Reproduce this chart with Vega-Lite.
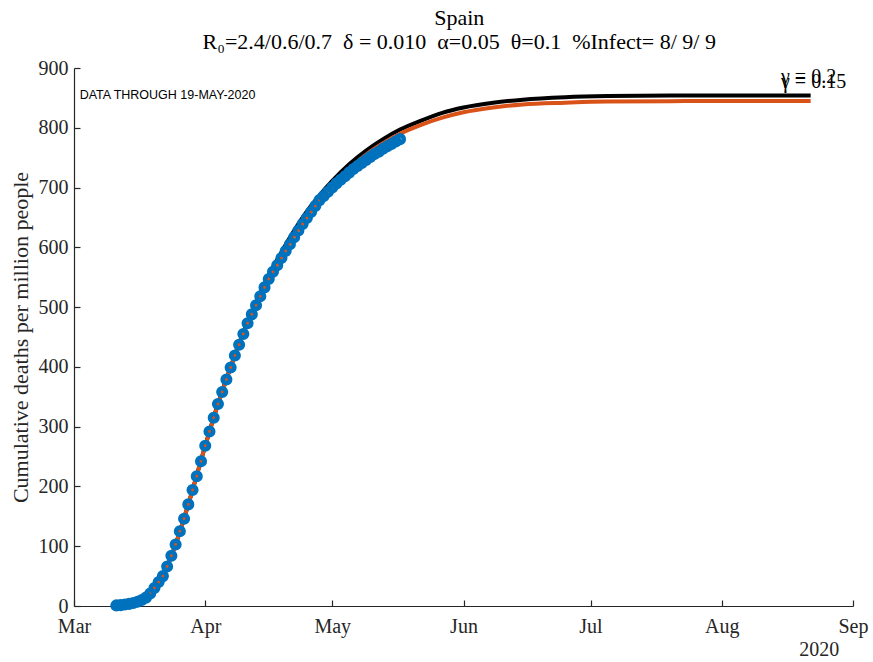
{
  "$schema": "https://vega.github.io/schema/vega-lite/v6.json",
  "width": 779,
  "height": 538,
  "autosize": {"type": "none"},
  "padding": {"left": 74, "top": 68, "right": 20, "bottom": 56},
  "background": "white",
  "config": {
    "view": {"stroke": null},
    "font": "Liberation Serif",
    "axis": {
      "grid": false,
      "domainColor": "#262626",
      "domainWidth": 1.2,
      "tickColor": "#262626",
      "tickWidth": 1.2,
      "tickSize": -6,
      "labelFont": "Liberation Serif",
      "labelFontSize": 20,
      "labelColor": "#262626",
      "titleFont": "Liberation Serif",
      "titleFontSize": 22,
      "titleFontWeight": "normal",
      "titleColor": "#262626"
    }
  },
  "datasets": {
    "model": [
      {"date": "2020-03-10", "g": "0.2", "v": 0.3},
      {"date": "2020-03-13", "g": "0.2", "v": 2},
      {"date": "2020-03-16", "g": "0.2", "v": 7},
      {"date": "2020-03-19", "g": "0.2", "v": 21},
      {"date": "2020-03-22", "g": "0.2", "v": 50},
      {"date": "2020-03-25", "g": "0.2", "v": 103},
      {"date": "2020-03-28", "g": "0.2", "v": 170},
      {"date": "2020-04-01", "g": "0.2", "v": 268},
      {"date": "2020-04-04", "g": "0.2", "v": 338},
      {"date": "2020-04-07", "g": "0.2", "v": 400},
      {"date": "2020-04-10", "g": "0.2", "v": 458},
      {"date": "2020-04-13", "g": "0.2", "v": 507},
      {"date": "2020-04-16", "g": "0.2", "v": 553},
      {"date": "2020-04-19", "g": "0.2", "v": 592},
      {"date": "2020-04-22", "g": "0.2", "v": 628},
      {"date": "2020-04-25", "g": "0.2", "v": 660},
      {"date": "2020-04-28", "g": "0.2", "v": 687},
      {"date": "2020-05-01", "g": "0.2", "v": 711},
      {"date": "2020-05-05", "g": "0.2", "v": 739},
      {"date": "2020-05-09", "g": "0.2", "v": 762},
      {"date": "2020-05-13", "g": "0.2", "v": 781},
      {"date": "2020-05-17", "g": "0.2", "v": 797},
      {"date": "2020-05-22", "g": "0.2", "v": 812},
      {"date": "2020-05-27", "g": "0.2", "v": 825},
      {"date": "2020-06-01", "g": "0.2", "v": 834},
      {"date": "2020-06-08", "g": "0.2", "v": 842},
      {"date": "2020-06-15", "g": "0.2", "v": 847},
      {"date": "2020-06-25", "g": "0.2", "v": 851},
      {"date": "2020-07-05", "g": "0.2", "v": 853},
      {"date": "2020-07-20", "g": "0.2", "v": 854},
      {"date": "2020-08-05", "g": "0.2", "v": 854},
      {"date": "2020-08-22", "g": "0.2", "v": 854},
      {"date": "2020-03-10", "g": "0.15", "v": 0.3},
      {"date": "2020-03-13", "g": "0.15", "v": 2},
      {"date": "2020-03-16", "g": "0.15", "v": 7},
      {"date": "2020-03-19", "g": "0.15", "v": 21},
      {"date": "2020-03-22", "g": "0.15", "v": 50},
      {"date": "2020-03-25", "g": "0.15", "v": 103},
      {"date": "2020-03-28", "g": "0.15", "v": 170},
      {"date": "2020-04-01", "g": "0.15", "v": 268},
      {"date": "2020-04-04", "g": "0.15", "v": 337},
      {"date": "2020-04-07", "g": "0.15", "v": 399},
      {"date": "2020-04-10", "g": "0.15", "v": 456},
      {"date": "2020-04-13", "g": "0.15", "v": 503},
      {"date": "2020-04-16", "g": "0.15", "v": 547},
      {"date": "2020-04-19", "g": "0.15", "v": 584},
      {"date": "2020-04-22", "g": "0.15", "v": 619},
      {"date": "2020-04-25", "g": "0.15", "v": 651},
      {"date": "2020-04-28", "g": "0.15", "v": 679},
      {"date": "2020-05-01", "g": "0.15", "v": 703},
      {"date": "2020-05-05", "g": "0.15", "v": 731},
      {"date": "2020-05-09", "g": "0.15", "v": 755},
      {"date": "2020-05-13", "g": "0.15", "v": 774},
      {"date": "2020-05-17", "g": "0.15", "v": 790},
      {"date": "2020-05-22", "g": "0.15", "v": 805},
      {"date": "2020-05-27", "g": "0.15", "v": 817},
      {"date": "2020-06-01", "g": "0.15", "v": 826},
      {"date": "2020-06-08", "g": "0.15", "v": 834},
      {"date": "2020-06-15", "g": "0.15", "v": 839},
      {"date": "2020-06-25", "g": "0.15", "v": 842},
      {"date": "2020-07-05", "g": "0.15", "v": 844},
      {"date": "2020-07-20", "g": "0.15", "v": 844.5},
      {"date": "2020-08-05", "g": "0.15", "v": 845},
      {"date": "2020-08-22", "g": "0.15", "v": 845}
    ],
    "obs": [
      {"date": "2020-03-11", "v": 1},
      {"date": "2020-03-12", "v": 1.5},
      {"date": "2020-03-13", "v": 2.5},
      {"date": "2020-03-14", "v": 3.5},
      {"date": "2020-03-15", "v": 5},
      {"date": "2020-03-16", "v": 7},
      {"date": "2020-03-17", "v": 10},
      {"date": "2020-03-18", "v": 14},
      {"date": "2020-03-19", "v": 21},
      {"date": "2020-03-20", "v": 30},
      {"date": "2020-03-21", "v": 40},
      {"date": "2020-03-22", "v": 50},
      {"date": "2020-03-23", "v": 66},
      {"date": "2020-03-24", "v": 84},
      {"date": "2020-03-25", "v": 103},
      {"date": "2020-03-26", "v": 125},
      {"date": "2020-03-27", "v": 146},
      {"date": "2020-03-28", "v": 170},
      {"date": "2020-03-29", "v": 194},
      {"date": "2020-03-30", "v": 217},
      {"date": "2020-03-31", "v": 242},
      {"date": "2020-04-01", "v": 268},
      {"date": "2020-04-02", "v": 292},
      {"date": "2020-04-03", "v": 315},
      {"date": "2020-04-04", "v": 338},
      {"date": "2020-04-05", "v": 358},
      {"date": "2020-04-06", "v": 379},
      {"date": "2020-04-07", "v": 399},
      {"date": "2020-04-08", "v": 419},
      {"date": "2020-04-09", "v": 437},
      {"date": "2020-04-10", "v": 455},
      {"date": "2020-04-11", "v": 473},
      {"date": "2020-04-12", "v": 488},
      {"date": "2020-04-13", "v": 503},
      {"date": "2020-04-14", "v": 518},
      {"date": "2020-04-15", "v": 533},
      {"date": "2020-04-16", "v": 547},
      {"date": "2020-04-17", "v": 559},
      {"date": "2020-04-18", "v": 570},
      {"date": "2020-04-19", "v": 582},
      {"date": "2020-04-20", "v": 594},
      {"date": "2020-04-21", "v": 605},
      {"date": "2020-04-22", "v": 617},
      {"date": "2020-04-23", "v": 628},
      {"date": "2020-04-24", "v": 639},
      {"date": "2020-04-25", "v": 649},
      {"date": "2020-04-26", "v": 659},
      {"date": "2020-04-27", "v": 669},
      {"date": "2020-04-28", "v": 679},
      {"date": "2020-04-29", "v": 686},
      {"date": "2020-04-30", "v": 693},
      {"date": "2020-05-01", "v": 700},
      {"date": "2020-05-02", "v": 707},
      {"date": "2020-05-03", "v": 713},
      {"date": "2020-05-04", "v": 719},
      {"date": "2020-05-05", "v": 725},
      {"date": "2020-05-06", "v": 731},
      {"date": "2020-05-07", "v": 736},
      {"date": "2020-05-08", "v": 741},
      {"date": "2020-05-09", "v": 746},
      {"date": "2020-05-10", "v": 751},
      {"date": "2020-05-11", "v": 756},
      {"date": "2020-05-12", "v": 760},
      {"date": "2020-05-13", "v": 765},
      {"date": "2020-05-14", "v": 769},
      {"date": "2020-05-15", "v": 773},
      {"date": "2020-05-16", "v": 777},
      {"date": "2020-05-17", "v": 781}
    ]
  },
  "layer": [
    {
      "data": {"name": "model"},
      "transform": [{"filter": "datum.g == '0.2'"}],
      "mark": {"type": "line", "color": "#000000", "strokeWidth": 4, "interpolate": "monotone", "clip": false},
      "encoding": {
        "x": {
          "field": "date", "type": "temporal",
          "scale": {"type": "utc", "nice": false, "domain": [{"year": 2020, "month": 3, "date": 1, "utc": true}, {"year": 2020, "month": 9, "date": 1, "utc": true}]},
          "axis": {
            "title": null,
            "format": "%b",
            "values": [
              {"year": 2020, "month": 3, "date": 1, "utc": true},
              {"year": 2020, "month": 4, "date": 1, "utc": true},
              {"year": 2020, "month": 5, "date": 1, "utc": true},
              {"year": 2020, "month": 6, "date": 1, "utc": true},
              {"year": 2020, "month": 7, "date": 1, "utc": true},
              {"year": 2020, "month": 8, "date": 1, "utc": true},
              {"year": 2020, "month": 9, "date": 1, "utc": true}
            ],
            "labelPadding": 16,
            "labelFlush": false,
            "labelOverlap": false
          }
        },
        "y": {
          "field": "v", "type": "quantitative",
          "scale": {"domain": [0, 900], "nice": false},
          "axis": {
            "title": "Cumulative deaths per million people",
            "values": [0, 100, 200, 300, 400, 500, 600, 700, 800, 900],
            "labelPadding": 12,
            "titlePadding": 6,
            "labelFlush": false,
            "labelOverlap": false
          }
        }
      }
    },
    {
      "data": {"name": "model"},
      "transform": [{"filter": "datum.g == '0.15'"}],
      "mark": {"type": "line", "color": "#D95319", "strokeWidth": 4, "interpolate": "monotone", "clip": false},
      "encoding": {
        "x": {"field": "date", "type": "temporal"},
        "y": {"field": "v", "type": "quantitative"}
      }
    },
    {
      "data": {"name": "obs"},
      "mark": {"type": "point", "shape": "circle", "filled": false, "color": "#0072BD", "strokeWidth": 4.6, "size": 56, "opacity": 1, "clip": false},
      "encoding": {
        "x": {"field": "date", "type": "temporal"},
        "y": {"field": "v", "type": "quantitative"}
      }
    },
    {
      "data": {"values": [{"label": "DATA THROUGH 19-MAY-2020"}]},
      "mark": {"type": "text", "font": "Liberation Sans", "fontSize": 12.5, "align": "left", "baseline": "middle", "color": "black"},
      "encoding": {
        "text": {"field": "label"},
        "x": {"datum": {"year": 2020, "month": 3, "date": 2, "hours": 8, "utc": true}, "type": "temporal"},
        "y": {"datum": 855, "type": "quantitative"}
      }
    },
    {
      "data": {"values": [{"label": "γ = 0.2"}]},
      "mark": {"type": "text", "font": "Liberation Serif", "fontSize": 20, "align": "left", "baseline": "alphabetic", "color": "black", "clip": false},
      "encoding": {
        "text": {"field": "label"},
        "x": {"datum": {"year": 2020, "month": 8, "date": 15, "utc": true}, "type": "temporal"},
        "y": {"datum": 875, "type": "quantitative"}
      }
    },
    {
      "data": {"values": [{"label": "γ = 0.15"}]},
      "mark": {"type": "text", "font": "Liberation Serif", "fontSize": 20, "align": "left", "baseline": "alphabetic", "color": "black", "clip": false},
      "encoding": {
        "text": {"field": "label"},
        "x": {"datum": {"year": 2020, "month": 8, "date": 15, "utc": true}, "type": "temporal"},
        "y": {"datum": 867, "type": "quantitative"}
      }
    },
    {
      "data": {"values": [{"label": "2020"}]},
      "mark": {"type": "text", "font": "Liberation Serif", "fontSize": 20, "align": "center", "baseline": "middle", "color": "#262626", "clip": false},
      "encoding": {
        "text": {"field": "label"},
        "x": {"datum": {"year": 2020, "month": 8, "date": 24, "utc": true}, "type": "temporal"},
        "y": {"datum": -74, "type": "quantitative"}
      }
    },
    {
      "data": {"values": [{"label": "Spain"}]},
      "mark": {"type": "text", "font": "Liberation Serif", "fontSize": 22, "align": "center", "baseline": "middle", "color": "black", "clip": false},
      "encoding": {
        "text": {"field": "label"},
        "x": {"datum": {"year": 2020, "month": 5, "date": 31, "utc": true}, "type": "temporal"},
        "y": {"datum": 983, "type": "quantitative"}
      }
    },
    {
      "data": {"values": [{"label": "R₀=2.4/0.6/0.7\u00a0\u00a0δ = 0.010\u00a0\u00a0α=0.05\u00a0\u00a0θ=0.1\u00a0\u00a0%Infect= 8/ 9/ 9"}]},
      "mark": {"type": "text", "font": "Liberation Serif", "fontSize": 22, "align": "center", "baseline": "middle", "color": "black", "clip": false},
      "encoding": {
        "text": {"field": "label"},
        "x": {"datum": {"year": 2020, "month": 5, "date": 31, "utc": true}, "type": "temporal"},
        "y": {"datum": 943, "type": "quantitative"}
      }
    }
  ]
}
